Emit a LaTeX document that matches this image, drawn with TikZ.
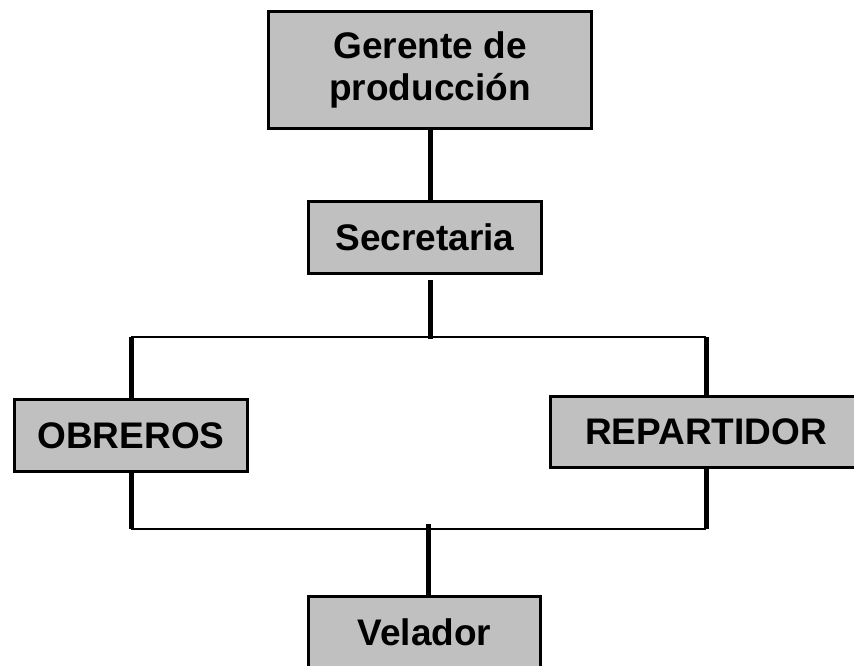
\documentclass[tikz,border=0pt]{standalone}
\usepackage{fontspec}
\setmainfont{Liberation Sans}
\usepackage{tikz}
\usetikzlibrary{positioning}
\definecolor{boxgray}{HTML}{C0C0C0}

\tikzset{
  orgbox/.style={draw=black, fill=boxgray, line width=3.5pt, inner sep=0pt,
    align=center, font=\fontsize{37}{42}\selectfont\bfseries},
  stem/.style={line width=5pt},
  bar/.style={line width=2pt},
}

\begin{document}
\begin{tikzpicture}[x=1pt, y=-1pt]

  %% page frame
  \useasboundingbox (0,0) rectangle (854,666);
  \clip (0,0) rectangle (854,666);

  %% boxes
  \node[orgbox, minimum width=323pt, minimum height=117pt] (gerente) at (430,70)
    {Gerente de\\producción};
  \node[orgbox, minimum width=233pt, minimum height=72pt] (secretaria) at (425,237.5)
    {Secretaria};
  \node[orgbox, minimum width=233pt, minimum height=72pt] (obreros) at (131,435.5)
    {OBREROS};
  \node[orgbox, minimum width=311pt, minimum height=71pt] (repartidor) at (706,432)
    {REPARTIDOR};
  \node[orgbox, minimum width=232pt, minimum height=71pt] (velador) at (424.5,632)
    {Velador};

  %% junctions
  \coordinate (topmid) at (430,337);
  \coordinate (topleft) at (obreros.north |- topmid);
  \coordinate (topright) at (repartidor.north |- topmid);
  \coordinate (botmid) at (428,529);
  \coordinate (botleft) at (obreros.south |- botmid);
  \coordinate (botright) at (repartidor.south |- botmid);

  %% upper connectors
  \draw[stem] (gerente.south) -- (gerente.south |- secretaria.north);
  \draw[stem] ([yshift=-5pt]secretaria.south -| topmid) -- ([yshift=-2pt]topmid);
  \draw[bar] (topleft) -- (topright);
  \draw[stem] (topleft) -- (obreros.north);
  \draw[stem] (topright) -- (repartidor.north);

  %% lower connectors
  \draw[stem] (obreros.south) -- (botleft);
  \draw[stem] (repartidor.south) -- (botright);
  \draw[bar] (botleft) -- (botright);
  \draw[stem] ([yshift=5pt]botmid) -- (botmid |- velador.north);

\end{tikzpicture}
\end{document}
